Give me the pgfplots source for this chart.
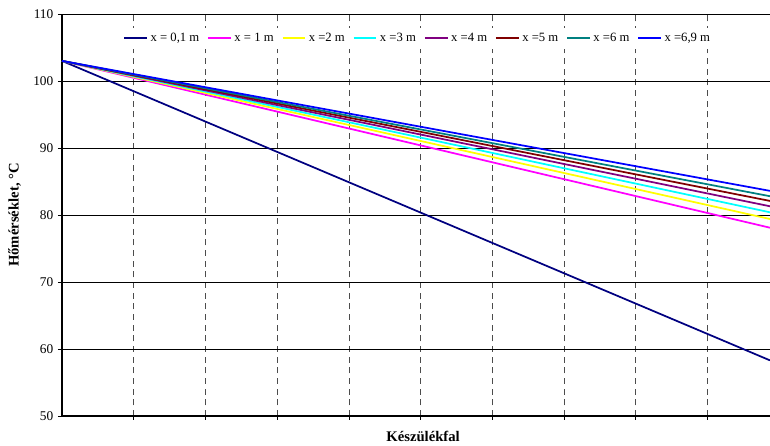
\documentclass[border=0pt]{standalone}
\usepackage{fontspec}
\setmainfont{Liberation Serif}
\usepackage{pgfplots}
\pgfplotsset{compat=1.18}

\definecolor{cNavy}{RGB}{0,0,128}
\definecolor{cMagenta}{RGB}{255,0,255}
\definecolor{cYellow}{RGB}{255,255,0}
\definecolor{cCyan}{RGB}{0,255,255}
\definecolor{cPurple}{RGB}{128,0,128}
\definecolor{cDarkRed}{RGB}{128,0,0}
\definecolor{cTeal}{RGB}{0,128,128}
\definecolor{cBlue}{RGB}{0,0,255}

\begin{document}
\begin{tikzpicture}
\begin{axis}[
    scale only axis,
    width=531pt,
    height=301.5pt,
    xmin=0, xmax=9.87,
    ymin=50, ymax=110,
    axis x line*=bottom,
    axis y line*=left,
    axis line style={black, line width=0.8pt},
    ytick={50,60,...,110},
    xtick={1,...,9},
    xticklabels={},
    tick align=outside,
    major tick length=3pt,
    tick style={black, line width=0.6pt},
    ymajorgrids,
    xmajorgrids,
    y grid style={black, line width=0.6pt},
    x grid style={black!70, line width=0.6pt, dash pattern=on 4.5pt off 3.5pt},
    tick label style={font=\fontsize{10}{12}\selectfont},
    /pgf/number format/assume math mode=true,
    xlabel={\textbf{Készülékfal}},
    ylabel={\textbf{Hőmérséklet, °C}},
    label style={font=\fontsize{11}{13}\selectfont},
    xlabel style={at={(axis description cs:0.51,-0.052)}, anchor=center},
    ylabel style={at={(axis description cs:-0.067,0.5)}, anchor=center},
    legend columns=8,
    legend style={
        at={(axis description cs:0.503,0.94)},
        anchor=center,
        draw=none,
        fill=white,
        font=\fontsize{9.5}{11}\selectfont,
        /tikz/every even column/.append style={column sep=4pt},
    },
    legend image post style={line width=1.3pt},
    every axis plot/.append style={line width=1.3pt},
]
\coordinate (sw) at (rel axis cs:0,0);
\coordinate (ne) at (rel axis cs:1,1);

\addplot[cNavy] coordinates {(0,103) (9.87,58.3)};
\addlegendentry{x = 0,1 m}
\addplot[cMagenta] coordinates {(0,103) (9.87,78.1)};
\addlegendentry{x = 1 m}
\addplot[cYellow] coordinates {(0,103) (9.87,79.4)};
\addlegendentry{x =2 m}
\addplot[cCyan] coordinates {(0,103) (9.87,80.4)};
\addlegendentry{x =3 m}
\addplot[cPurple] coordinates {(0,103) (9.87,81.3)};
\addlegendentry{x =4 m}
\addplot[cDarkRed] coordinates {(0,103) (9.87,82.1)};
\addlegendentry{x =5 m}
\addplot[cTeal] coordinates {(0,103) (9.87,82.8)};
\addlegendentry{x =6 m}
\addplot[cBlue] coordinates {(0,103) (9.87,83.6)};
\addlegendentry{x =6,9 m}

\end{axis}
\pgfresetboundingbox
\path ([shift={(-46.5pt,-22.5pt)}]sw) rectangle ([shift={(0pt,10.5pt)}]ne);
\end{tikzpicture}
\end{document}
